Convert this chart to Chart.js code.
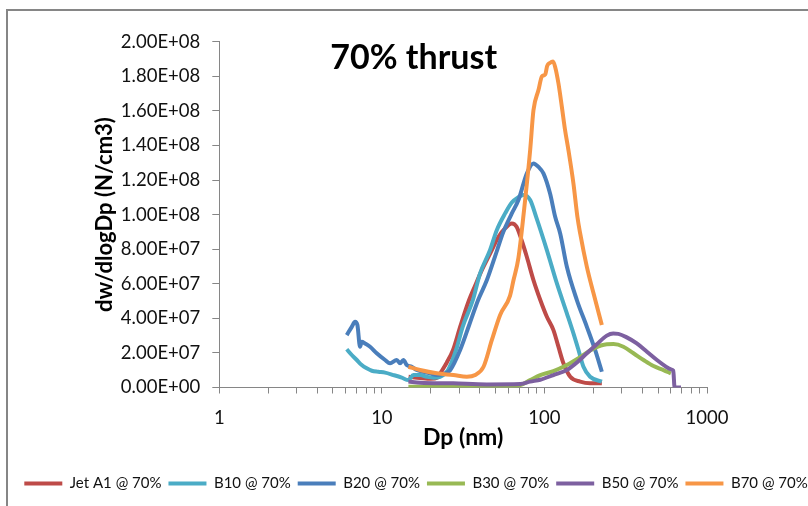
<!DOCTYPE html>
<html>
<head>
<meta charset="utf-8">
<script src="https://cdn.jsdelivr.net/npm/chart.js@4.4.1/dist/chart.umd.min.js"></script>
<style>
  html, body { margin: 0; padding: 0; background: #fff; overflow: hidden; }
  #wrap { position: relative; width: 832px; height: 506px; }
</style>
</head>
<body>
<div id="wrap"><canvas id="chart"></canvas></div>
<script>
const CHART_TITLE = '70% thrust';
const X_TITLE = 'Dp (nm)';
const Y_TITLE = 'dw/dlogDp (N/cm3)';

// minor + major tick positions of the log axis, labels only on decades
const DP_TICKS = [1, 2, 3, 4, 5, 6, 7, 8, 9, 10, 20, 30, 40, 50, 60, 70, 80, 90,
  100, 200, 300, 400, 500, 600, 700, 800, 900, 1000];
const DP_LABELS = [1, 10, 100, 1000];

const SERIES_NAMES = ['Jet A1 @ 70%', 'B10 @ 70%', 'B20 @ 70%', 'B30 @ 70%', 'B50 @ 70%', 'B70 @ 70%'];
const SERIES_COLORS = ['#BE4B48', '#4BACC6', '#4A7EBB', '#98B954', '#7D60A0', '#F79646'];

const jetA1Dp = [14.6, 17.2, 20.0, 22.0, 23.5, 25.1, 27.4, 30.3, 34.4, 37.5, 41.2, 46.4, 52.2, 57.2, 63.0,
  67.4, 72.3, 77.9, 85.6, 94.3, 103.5, 113.6, 121.9, 130.9, 144.2, 165.9, 190.9, 225.5];
const jetA1Val = [0.62e7, 0.55e7, 0.5e7, 0.58e7, 1.0e7, 1.45e7, 2.17e7, 3.51e7, 5.06e7, 5.9e7, 6.79e7, 7.76e7,
  8.72e7, 9.2e7, 9.49e7, 9.3e7, 8.53e7, 7.56e7, 6.21e7, 5.06e7, 4.09e7, 3.32e7, 2.36e7, 1.4e7, 0.62e7,
  0.34e7, 0.24e7, 0.24e7];

const b10Dp = [6.08, 6.53, 7.01, 7.52, 8.07, 8.67, 9.51, 10.47, 11.78, 13.25, 14.56, 15.63, 17.18, 18.9, 20.7,
  22.8, 25.5, 28.6, 31.4, 36.3, 40.2, 46.3, 50.9, 57.3, 63.0, 68.9, 74.3, 81.7, 88.9, 103.5, 119.3, 137.4,
  150.8, 162, 173.8, 190.9, 225.5];
const b10Val = [2.21e7, 1.88e7, 1.59e7, 1.3e7, 1.11e7, 0.97e7, 0.91e7, 0.86e7, 0.72e7, 0.57e7, 0.43e7, 0.72e7,
  0.72e7, 0.62e7, 0.57e7, 0.62e7, 1.0e7, 2.17e7, 3.51e7, 5.06e7, 6.6e7, 7.95e7, 9.1e7, 10.07e7, 10.7e7,
  11.0e7, 11.13e7, 10.84e7, 9.87e7, 7.95e7, 6.02e7, 4.29e7, 3.13e7, 2.17e7, 1.2e7, 0.62e7, 0.34e7];

const b20Dp = [6.08, 6.53, 6.84, 7.07, 7.34, 7.52, 7.88, 8.46, 9.3, 10.47, 11.23, 12.35, 12.94, 13.56, 14.23,
  15.27, 16.39, 18.0, 19.8, 21.77, 23.9, 26.3, 30.3, 34.4, 39.1, 44.2, 51.2, 55.9, 63.0, 69.2, 77.9, 85.6,
  91.9, 98.6, 108.4, 116.4, 125, 137.4, 158.3, 182.4, 205, 225.5];
const b20Val = [3.03e7, 3.51e7, 3.8e7, 3.61e7, 2.36e7, 2.65e7, 2.55e7, 2.36e7, 1.98e7, 1.59e7, 1.4e7, 1.59e7,
  1.4e7, 1.59e7, 1.3e7, 1.2e7, 1.01e7, 0.91e7, 0.82e7, 0.72e7, 0.78e7, 1.0e7, 2.17e7, 3.6e7, 5.06e7, 6.2e7,
  7.95e7, 9.0e7, 10.07e7, 10.84e7, 12.38e7, 12.96e7, 12.76e7, 12.38e7, 11.2e7, 9.87e7, 8.91e7, 6.98e7,
  5.06e7, 3.51e7, 2.17e7, 0.91e7];

const b30Dp = [14.56, 27.5, 44.2, 60, 71.0, 81.7, 94.3, 113.6, 137.4, 165.9, 200.4, 242, 266, 306, 353, 407,
  469, 540, 600];
const b30Val = [0.05e7, 0.05e7, 0.05e7, 0.08e7, 0.14e7, 0.43e7, 0.72e7, 0.95e7, 1.3e7, 1.75e7, 2.25e7, 2.5e7,
  2.51e7, 2.36e7, 1.98e7, 1.59e7, 1.24e7, 1.01e7, 0.82e7];

const b50Dp = [14.56, 17.18, 27.5, 44.2, 71.0, 81.7, 94.3, 113.6, 137.4, 161, 182.4, 210, 242, 265, 285, 321,
  370, 427, 492, 553, 600, 620, 632, 692];
const b50Val = [0.34e7, 0.28e7, 0.24e7, 0.18e7, 0.2e7, 0.34e7, 0.45e7, 0.72e7, 1.01e7, 1.5e7, 1.98e7, 2.5e7,
  3.0e7, 3.12e7, 3.1e7, 2.9e7, 2.55e7, 2.07e7, 1.59e7, 1.24e7, 1.05e7, 0.98e7, 0, 0];

const b70Dp = [14.56, 17.18, 21.77, 27.54, 33.3, 37.5, 42.2, 47.5, 53.4, 61.4, 64.5, 69.2, 75.0, 81.7, 85.6,
  91.9, 96.6, 101, 104, 108, 113, 116.4, 122, 128, 134, 140.5, 150.8, 159.5, 165.9, 182.4, 200.4, 225.5];
const b70Val = [1.2e7, 1.01e7, 0.82e7, 0.72e7, 0.62e7, 0.72e7, 1.2e7, 2.75e7, 4.2e7, 5.3e7, 6.2e7, 7.5e7,
  10.3e7, 13.73e7, 16.04e7, 17.2e7, 18.0e7, 18.1e7, 18.6e7, 18.77e7, 18.85e7, 18.54e7, 17.58e7, 16.23e7,
  14.88e7, 13.73e7, 11.8e7, 9.87e7, 8.91e7, 6.98e7, 5.45e7, 3.61e7];

const SERIES_DP = [jetA1Dp, b10Dp, b20Dp, b30Dp, b50Dp, b70Dp];
const SERIES_VAL = [jetA1Val, b10Val, b20Val, b30Val, b50Val, b70Val];

function sciLabel(v) {
  if (v === 0) return '0.00E+00';
  const e = Math.floor(Math.log10(v) + 1e-9);
  const m = v / Math.pow(10, e);
  return m.toFixed(2) + 'E+' + String(e).padStart(2, '0');
}

const datasets = SERIES_NAMES.map((name, i) => ({
  label: name,
  data: SERIES_DP[i].map((dp, j) => ({ x: dp, y: SERIES_VAL[i][j] })),
  borderColor: SERIES_COLORS[i],
  backgroundColor: SERIES_COLORS[i],
  borderWidth: 4,
  pointRadius: 0,
  cubicInterpolationMode: 'monotone',
  fill: false,
  order: SERIES_NAMES.length - 1 - i, // later series drawn on top, like excel
}));

const framePlugin = {
  id: 'frame',
  beforeDraw(chart) {
    const ctx = chart.ctx;
    ctx.save();
    ctx.fillStyle = '#fff';
    ctx.fillRect(0, 0, chart.width, chart.height);
    ctx.strokeStyle = '#868686';
    ctx.lineWidth = 2;
    ctx.strokeRect(7, 10, chart.width + 40, chart.height + 40);
    ctx.restore();
  }
};

const innerTitle = {
  id: 'innerTitle',
  afterDraw(chart) {
    const { ctx, chartArea } = chart;
    ctx.save();
    ctx.font = 'bold 34px Lato';
    ctx.fillStyle = '#000';
    ctx.textBaseline = 'alphabetic';
    ctx.textAlign = 'left';
    ctx.fillText(CHART_TITLE, chartArea.left + 111, chartArea.top + 27);
    ctx.restore();
  }
};

Chart.defaults.font.family = 'Lato';
Chart.defaults.color = '#111';

new Chart(document.getElementById('chart'), {
  type: 'line',
  data: { datasets },
  plugins: [framePlugin, innerTitle],
  options: {
    responsive: true,
    maintainAspectRatio: false,
    animation: false,
    layout: { padding: { left: 0, top: 41.7, right: 0, bottom: 5 } },
    plugins: {
      title: { display: false },
      tooltip: { enabled: false },
      legend: {
        position: 'bottom',
        reverse: true,
        labels: {
          usePointStyle: true,
          pointStyle: 'line',
          pointStyleWidth: 38,
          padding: 7,
          color: '#111',
          font: { size: 15 },
        },
      },
    },
    scales: {
      x: {
        type: 'logarithmic',
        min: 1,
        max: 1000,
        afterBuildTicks(scale) {
          scale.ticks = DP_TICKS.map(v => ({ value: v }));
        },
        afterFit(scale) { scale.height = 81.5; },
        border: { display: true, color: '#868686', width: 1 },
        grid: { drawOnChartArea: false, drawTicks: true, tickLength: 6, color: '#868686', tickColor: '#868686' },
        ticks: {
          autoSkip: false,
          maxRotation: 0,
          padding: 13,
          font: { size: 18.5 },
          callback: v => (DP_LABELS.includes(v) ? String(v) : ''),
        },
        title: {
          display: true,
          text: X_TITLE,
          color: '#000',
          font: { size: 23, weight: 'bold' },
          padding: { top: 0, bottom: 18 },
        },
      },
      y: {
        type: 'linear',
        position: 'left',
        min: 0,
        max: 2e8,
        afterFit(scale) { scale.width = 219.3; },
        border: { display: true, color: '#868686', width: 1 },
        grid: { drawOnChartArea: false, drawTicks: true, tickLength: 7, color: '#868686', tickColor: '#868686' },
        ticks: {
          stepSize: 2e7,
          padding: 12,
          font: { size: 18.5 },
          callback: v => sciLabel(v),
        },
        title: {
          display: true,
          text: Y_TITLE,
          color: '#000',
          font: { size: 22, weight: 'bold' },
          padding: { top: 92, bottom: 0 },
        },
      },
      // empty right-hand box so the plot ends at the 1000 tick like the original
      yPad: {
        type: 'linear',
        position: 'right',
        display: true,
        afterFit(scale) { scale.width = 125; },
        grid: { display: false },
        border: { display: false },
        ticks: { display: false },
      },
    },
  },
});
</script>
</body>
</html>
